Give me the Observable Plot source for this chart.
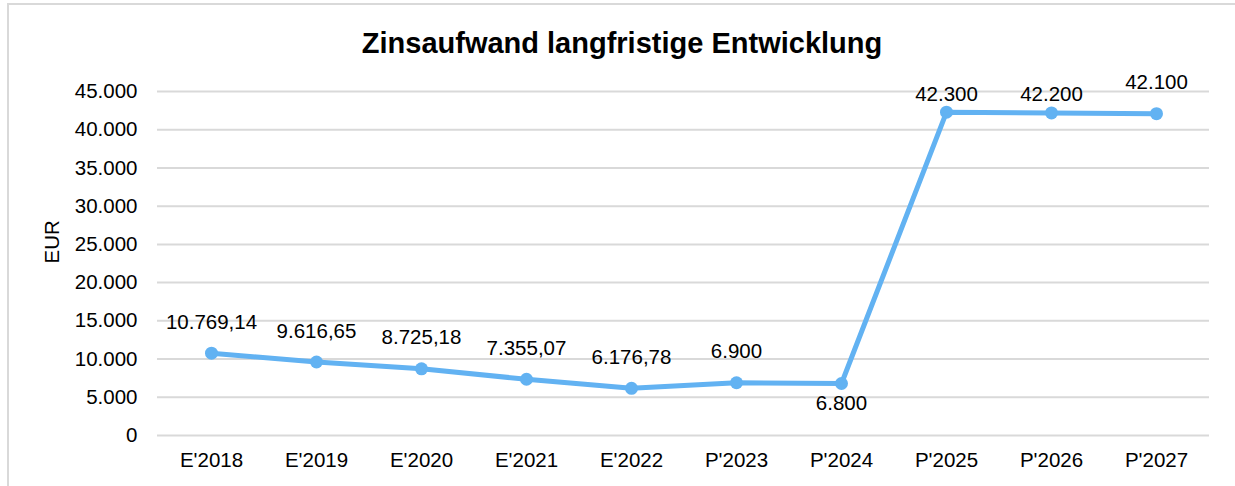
<!DOCTYPE html>
<html>
<head>
<meta charset="utf-8">
<script src="https://cdn.jsdelivr.net/npm/d3@7"></script>
<script src="https://cdn.jsdelivr.net/npm/@observablehq/plot@0.6"></script>
<style>
  html, body { margin: 0; padding: 0; background: #fff; }
  #wrap { position: relative; width: 1235px; height: 486px; overflow: hidden; font-family: "Liberation Sans", Arial, sans-serif; }
  #frame { position: absolute; left: 7px; top: 3px; width: 1400px; height: 700px; border: 2px solid #d9d9d9; box-sizing: border-box; }
  #title { position: absolute; left: 0; top: 28.5px; width: 1244px; text-align: center; font-size: 29px; line-height: 29px; font-weight: bold; color: #000; white-space: nowrap; }
  #chart { position: absolute; left: 0; top: 0; }
</style>
</head>
<body>
<div id="wrap">
  <div id="frame"></div>
  <div id="chart"></div>
  <div id="title">Zinsaufwand langfristige Entwicklung</div>
</div>
<script>
const categories = ["E'2018", "E'2019", "E'2020", "E'2021", "E'2022", "P'2023", "P'2024", "P'2025", "P'2026", "P'2027"];
const values = [10769.14, 9616.65, 8725.18, 7355.07, 6176.78, 6900, 6800, 42300, 42200, 42100];
const yTicks = [0, 5000, 10000, 15000, 20000, 25000, 30000, 35000, 40000, 45000];
const yLabel = "EUR";

const de = d3.formatLocale({decimal: ",", thousands: ".", grouping: [3], currency: ["", " €"]});
const fmtInt = de.format(",d");
const fmtDec = de.format(",.2f");
const fmtVal = v => Number.isInteger(v) ? fmtInt(v) : fmtDec(v);

const data = categories.map((c, i) => ({cat: c, val: values[i], label: fmtVal(values[i])}));

const blue = "#62B2F2";
const fs = 20.5;
const lowered = new Set(["P'2025", "P'2026"]);
const below = new Set(["P'2024"]);

const chart = Plot.plot({
  width: 1235,
  height: 486,
  marginLeft: 157,
  marginRight: 26,
  marginTop: 91,
  marginBottom: 51,
  style: {fontFamily: "'Liberation Sans', Arial, sans-serif", fontSize: fs + "px", color: "#000", background: "transparent", overflow: "visible"},
  x: {type: "point", domain: categories, padding: 0.5},
  y: {domain: [0, 45000]},
  marks: [
    Plot.ruleY(yTicks, {stroke: "#d9d9d9", strokeWidth: 2}),
    Plot.axisY({ticks: yTicks, tickSize: 0, tickPadding: 20, tickFormat: fmtInt, label: null, fontSize: fs}),
    Plot.axisX({tickSize: 0, tickPadding: 17, label: null, fontSize: fs}),
    Plot.text([yLabel], {frameAnchor: "left", dx: -105, rotate: -90, fontSize: fs, fill: "#000"}),
    Plot.line(data, {x: "cat", y: "val", stroke: blue, strokeWidth: 5, strokeLinejoin: "round"}),
    Plot.dot(data, {x: "cat", y: "val", r: 6.5, fill: blue, stroke: null}),
    Plot.text(data.filter(d => !lowered.has(d.cat) && !below.has(d.cat)), {x: "cat", y: "val", text: "label", dy: -31, fontSize: fs, fill: "#000"}),
    Plot.text(data.filter(d => lowered.has(d.cat)), {x: "cat", y: "val", text: "label", dy: -18, fontSize: fs, fill: "#000"}),
    Plot.text(data.filter(d => below.has(d.cat)), {x: "cat", y: "val", text: "label", dy: 20, fontSize: fs, fill: "#000"})
  ]
});
document.getElementById("chart").appendChild(chart);
</script>
</body>
</html>
